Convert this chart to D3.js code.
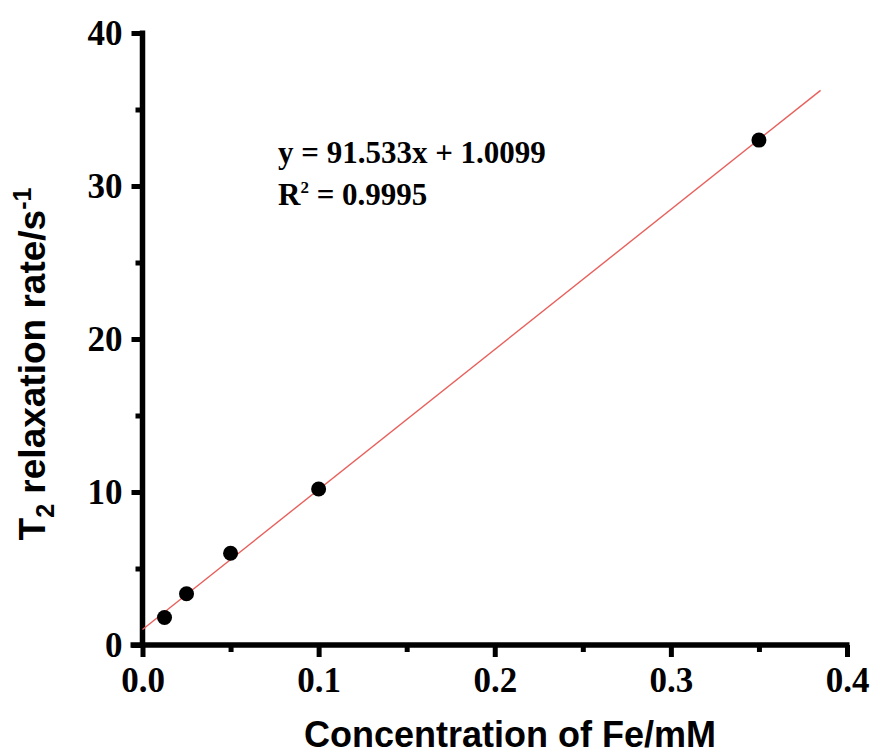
<!DOCTYPE html>
<html>
<head>
<meta charset="utf-8">
<script src="https://cdn.jsdelivr.net/npm/d3@7"></script>
<style>
  body { margin: 0; background: #fff; }
  svg { display: block; }
  .tick text { font-family: 'Liberation Serif', 'Times New Roman', serif; font-weight: bold; font-size: 35px; fill: #000; }
  .tick line, .domain { stroke: #000; }
</style>
</head>
<body>
<svg id="chart"></svg>
<script>
const concentration = [0.0125, 0.025, 0.05, 0.1, 0.35];
const relaxRate = [1.8, 3.35, 6.0, 10.2, 33.0];
const fitSlope = 91.533;
const fitIntercept = 1.0099;
const fitRange = [0, 0.385];
const xTicks = [0, 0.1, 0.2, 0.3, 0.4];
const yTicks = [0, 10, 20, 30, 40];
const xMinor = [0.05, 0.15, 0.25, 0.35];
const yMinor = [5, 15, 25, 35];

const svgWidth = 874;
const svgHeight = 756;
const m_left = 142.5;
const m_top = 33;
const width = 847 - m_left;
const height = 645 - m_top;

const svg = d3.select("#chart").attr("width", svgWidth).attr("height", svgHeight);
const g = svg.append("g").attr("transform", `translate(${m_left}, ${m_top})`);

const xScale = d3.scaleLinear().domain([0, 0.4]).range([0, width]);
const yScale = d3.scaleLinear().domain([0, 40]).range([height, 0]);

const serif = "'Liberation Serif', 'Times New Roman', serif";
const sans = "'Liberation Sans', Arial, sans-serif";

// minor ticks
g.append("g")
  .attr("transform", `translate(0, ${height})`)
  .call(d3.axisBottom(xScale).tickValues(xMinor).tickSize(7).tickFormat(""))
  .call((a) => a.select(".domain").remove())
  .selectAll("line").style("stroke-width", "5px");
g.append("g")
  .call(d3.axisLeft(yScale).tickValues(yMinor).tickSize(7).tickFormat(""))
  .call((a) => a.select(".domain").remove())
  .selectAll("line").style("stroke-width", "5px");

// major axes
const xAxis = g.append("g")
  .attr("transform", `translate(0, ${height})`)
  .call(d3.axisBottom(xScale).tickValues(xTicks).tickSize(12).tickSizeOuter(0).tickPadding(10).tickFormat(d3.format(".1f")));
const yAxis = g.append("g")
  .call(d3.axisLeft(yScale).tickValues(yTicks).tickSize(11).tickSizeOuter(0).tickPadding(9).tickFormat(d3.format("d")));

[xAxis, yAxis].forEach((a) => {
  a.attr("font-size", null).attr("font-family", null);
  a.select(".domain").style("stroke-width", "5.5px");
  a.selectAll(".tick line").style("stroke-width", "5px");
});
xAxis.select(".domain").attr("d", `M-12,0H${width + 2.5}`);
yAxis.select(".domain").attr("d", `M0,${height + 2.5}V-2.5`);

// fit line
g.append("line")
  .attr("x1", xScale(fitRange[0]))
  .attr("y1", yScale(fitSlope * fitRange[0] + fitIntercept))
  .attr("x2", xScale(fitRange[1]))
  .attr("y2", yScale(fitSlope * fitRange[1] + fitIntercept))
  .attr("stroke", "#e8605c")
  .attr("stroke-width", 1.4);

// points
g.selectAll(".pt")
  .data(concentration.map((c, i) => ({ x: c, y: relaxRate[i] })))
  .join("circle")
  .attr("class", "pt")
  .attr("cx", (d) => xScale(d.x))
  .attr("cy", (d) => yScale(d.y))
  .attr("r", 7.5)
  .attr("fill", "#000");

// equation
svg.append("text")
  .attr("x", 278)
  .attr("y", 163)
  .style("font-family", serif)
  .style("font-weight", "bold")
  .style("font-size", "31px")
  .text("y = 91.533x + 1.0099");
const r2 = svg.append("text")
  .attr("x", 278)
  .attr("y", 205)
  .style("font-family", serif)
  .style("font-weight", "bold")
  .style("font-size", "31px");
r2.append("tspan").text("R");
r2.append("tspan").attr("dy", -12).style("font-size", "17px").text("2");
r2.append("tspan").attr("dy", 12).text(" = 0.9995");

// axis titles
svg.append("text")
  .attr("x", 510)
  .attr("y", 747)
  .attr("text-anchor", "middle")
  .style("font-family", sans)
  .style("font-weight", "bold")
  .style("font-size", "36px")
  .text("Concentration of Fe/mM");

const yl = svg.append("text")
  .attr("transform", `translate(45, 364) rotate(-90)`)
  .attr("text-anchor", "middle")
  .style("font-family", sans)
  .style("font-weight", "bold")
  .style("font-size", "37px");
yl.append("tspan").text("T");
yl.append("tspan").attr("dy", 9).style("font-size", "25px").text("2");
yl.append("tspan").attr("dy", -9).text(" relaxation rate/s");
yl.append("tspan").attr("dy", -14).style("font-size", "25px").text("-1");
</script>
</body>
</html>
